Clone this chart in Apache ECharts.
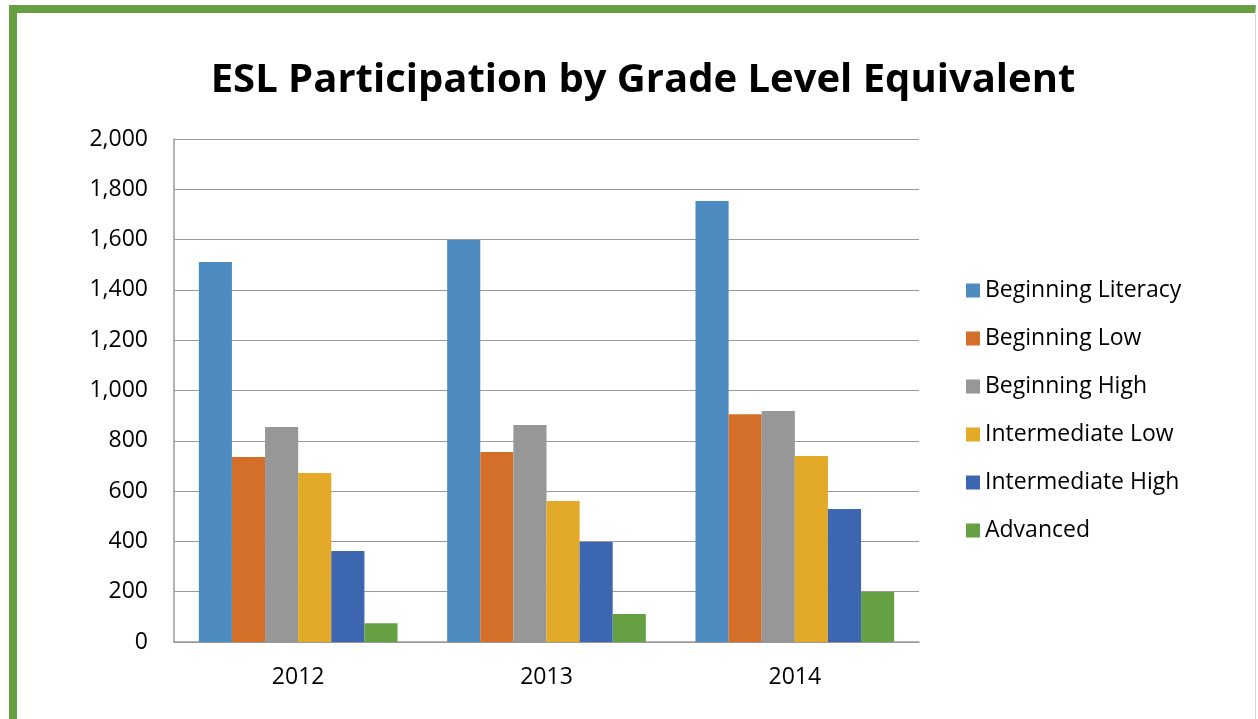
<!DOCTYPE html>
<html>
<head>
<meta charset="utf-8">
<script src="https://cdn.jsdelivr.net/npm/echarts@6/dist/echarts.min.js"></script>
<style>
  html, body { margin: 0; padding: 0; background: #fff; }
  #frame {
    position: absolute; left: 9px; top: 5px; width: 1238px; height: 714px;
    border-top: 8px solid #67a043; border-left: 8px solid #67a043;
    border-right: 1px solid #d8d8d8;
  }
  #chart { position: absolute; left: 0; top: 0; width: 1258px; height: 719px; }
</style>
</head>
<body>
<div id="frame"></div>
<div id="chart"></div>
<script>
const years = ['2012', '2013', '2014']
const levels = ['Beginning Literacy', 'Beginning Low', 'Beginning High', 'Intermediate Low', 'Intermediate High', 'Advanced']
const beginningLiteracy = [1511, 1598, 1753]
const beginningLow = [736, 755, 906]
const beginningHigh = [855, 863, 918]
const intermediateLow = [672, 561, 740]
const intermediateHigh = [362, 398, 529]
const advanced = [75, 111, 199]
const colors = ['#4e8bc0', '#d46f2a', '#979797', '#e2aa27', '#3c66b0', '#65a043']

const seriesValues = [beginningLiteracy, beginningLow, beginningHigh, intermediateLow, intermediateHigh, advanced]
const font = 'Open Sans, Noto Sans, sans-serif'

const myChart = echarts.init(document.getElementById('chart'), null, { renderer: 'canvas' })
myChart.setOption({
  animation: false,
  color: colors,
  title: {
    text: 'ESL Participation by Grade Level Equivalent',
    left: 638,
    textAlign: 'center',
    top: 56,
    textStyle: { fontFamily: font, fontWeight: 'bold', fontSize: 40, color: '#000' },
  },
  legend: {
    orient: 'vertical',
    left: 961,
    top: 274,
    itemWidth: 14,
    itemHeight: 14,
    itemGap: 25,
    icon: 'rect',
    textStyle: { fontFamily: font, fontSize: 23, color: '#000' },
    data: levels,
  },
  grid: {
    left: 174,
    right: 339,
    top: 139,
    bottom: 77,
    show: false,
  },
  xAxis: {
    type: 'category',
    data: years,
    axisTick: { show: false },
    axisLine: { lineStyle: { color: '#9a9a9a', width: 1.5 } },
    axisLabel: { fontFamily: font, fontSize: 23, color: '#000', margin: 24 },
  },
  yAxis: {
    type: 'value',
    min: 0,
    max: 2000,
    interval: 200,
    axisLine: { show: true, lineStyle: { color: '#9a9a9a', width: 1.5 } },
    axisTick: { show: false },
    splitLine: { lineStyle: { color: '#9a9a9a', width: 1.2 } },
    axisLabel: {
      fontFamily: font, fontSize: 23, color: '#000', margin: 26,
      formatter: (v) => v.toLocaleString('en-US'),
    },
  },
  series: levels.map((name, i) => ({
    name: name,
    type: 'bar',
    data: seriesValues[i],
    barGap: '0%',
    barCategoryGap: '20%',
  })),
})
</script>
</body>
</html>
